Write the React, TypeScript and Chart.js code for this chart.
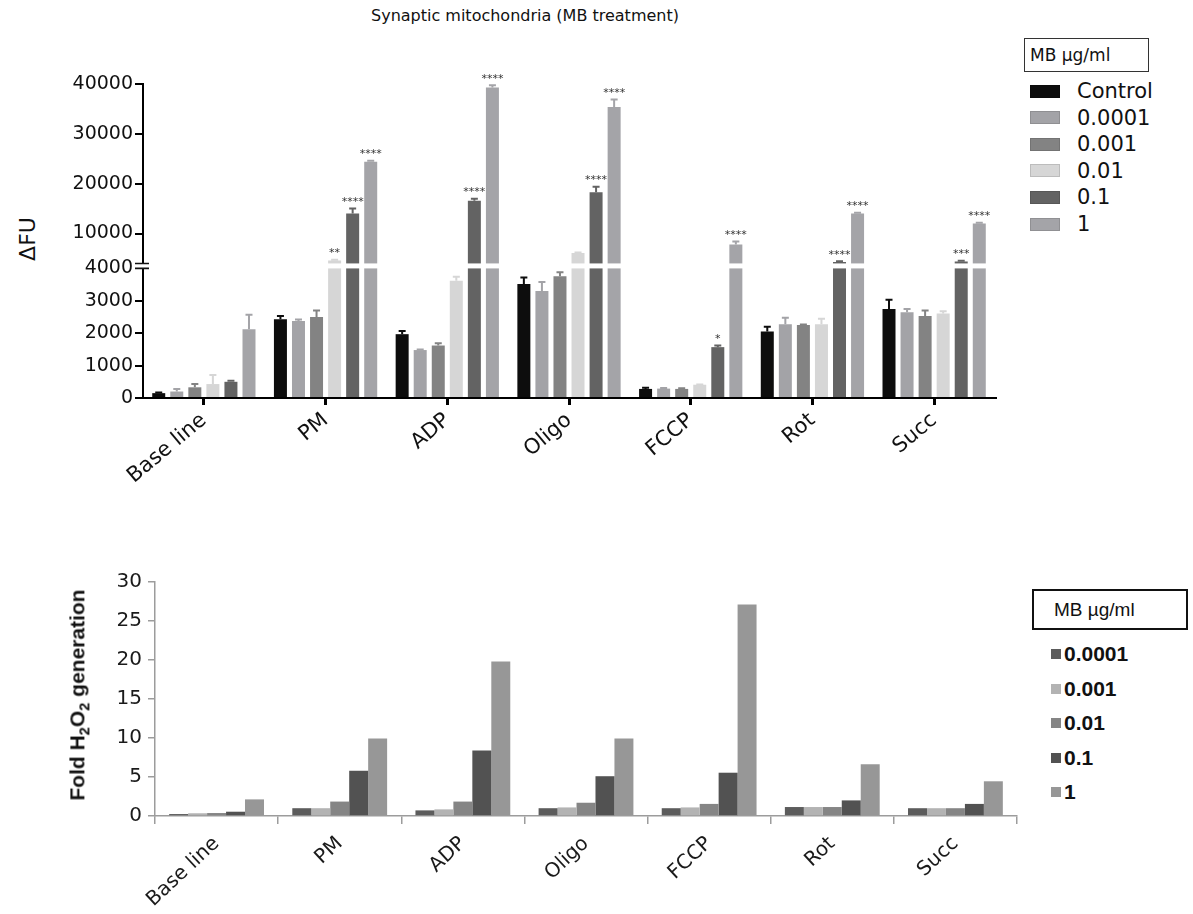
import React, { useEffect, useRef } from 'react';
import { Chart, registerables, LinearScale } from 'chart.js';

Chart.register(...registerables);

// ---------- data ----------
const categories = ['Base line', 'PM', 'ADP', 'Oligo', 'FCCP', 'Rot', 'Succ'];

const topSeriesLabels = ['Control', '0.0001', '0.001', '0.01', '0.1', '1'];
const controlVals = [150, 2430, 1970, 3520, 280, 2050, 2750];
const controlErr = [20, 100, 100, 200, 40, 150, 280];
const mb00001Vals = [200, 2380, 1480, 3300, 290, 2280, 2650];
const mb00001Err = [80, 40, 20, 280, 20, 200, 100];
const mb0001Vals = [330, 2500, 1620, 3760, 280, 2250, 2530];
const mb0001Err = [100, 200, 70, 120, 20, 20, 170];
const mb001Vals = [430, 4600, 3620, 6100, 410, 2280, 2610];
const mb001Err = [280, 150, 120, 100, 10, 170, 70];
const mb01Vals = [500, 14000, 16600, 18300, 1570, 4300, 4400];
const mb01Err = [30, 1000, 400, 1100, 50, 150, 150];
const mb1Vals = [2120, 24400, 39300, 35400, 7800, 14000, 12000];
const mb1Err = [450, 200, 450, 1500, 600, 150, 150];

const noStars = ['', '', '', '', '', '', ''];
const mb001Stars = ['', '**', '', '', '', '', ''];
const mb01Stars = ['', '****', '****', '****', '*', '****', '***'];
const mb1Stars = ['', '****', '****', '****', '****', '****', '****'];

const topTicks = [0, 1000, 2000, 3000, 4000, 10000, 20000, 30000, 40000];
const BREAK_VALUE = 4000;
const TOP_MAX = 40000;

const bottomSeriesLabels = ['0.0001', '0.001', '0.01', '0.1', '1'];
const fold00001 = [0.25, 1.0, 0.72, 1.0, 1.0, 1.15, 1.0];
const fold0001 = [0.35, 1.0, 0.85, 1.1, 1.1, 1.15, 1.0];
const fold001 = [0.38, 1.85, 1.85, 1.7, 1.55, 1.15, 1.0];
const fold01 = [0.55, 5.8, 8.4, 5.1, 5.55, 2.0, 1.55];
const fold1 = [2.13, 9.95, 19.8, 9.95, 27.1, 6.65, 4.45];

// ---------- styles ----------
const topColors = ['#0d0d0d', '#a3a3a7', '#838383', '#d6d6d6', '#636363', '#a4a4a8'];
const bottomColors = ['#5c5c5c', '#b3b3b3', '#858585', '#525252', '#979797'];
const LOWER_FRAC = 130 / 315;
const GAP_FRAC = 5 / 315;
const FONT = "'DejaVu Sans', sans-serif";
const ARIAL = "'Liberation Sans', Arial, sans-serif";

function brokenFraction(v: number): number {
  if (v <= BREAK_VALUE) return (v / BREAK_VALUE) * LOWER_FRAC;
  return LOWER_FRAC + GAP_FRAC + ((v - BREAK_VALUE) / (TOP_MAX - BREAK_VALUE)) * (1 - LOWER_FRAC - GAP_FRAC);
}
function brokenInverse(f: number): number {
  if (f <= LOWER_FRAC) return (f / LOWER_FRAC) * BREAK_VALUE;
  if (f <= LOWER_FRAC + GAP_FRAC) return BREAK_VALUE;
  return BREAK_VALUE + ((f - LOWER_FRAC - GAP_FRAC) / (1 - LOWER_FRAC - GAP_FRAC)) * (TOP_MAX - BREAK_VALUE);
}

class BrokenScale extends (LinearScale as any) {
  static id = 'brokenY';
  static defaults = {};
  buildTicks() {
    return topTicks.map((v) => ({ value: v }));
  }
  getPixelForValue(value: number) {
    return (this as any).getPixelForDecimal(brokenFraction(value));
  }
  getValueForPixel(pixel: number) {
    return brokenInverse((this as any).getDecimalForPixel(pixel));
  }
}
Chart.register(BrokenScale as any);

const topVals = [controlVals, mb00001Vals, mb0001Vals, mb001Vals, mb01Vals, mb1Vals];
const topErrs = [controlErr, mb00001Err, mb0001Err, mb001Err, mb01Err, mb1Err];
const topStars = [noStars, noStars, noStars, mb001Stars, mb01Stars, mb1Stars];
const bottomVals = [fold00001, fold0001, fold001, fold01, fold1];

const topExtras = {
  id: 'topExtras',
  afterDatasetsDraw(chart: any) {
    const ctx = chart.ctx;
    const y = chart.scales.y;
    const area = chart.chartArea;
    const yLow = y.getPixelForDecimal(LOWER_FRAC);
    const yUp = y.getPixelForDecimal(LOWER_FRAC + GAP_FRAC);
    ctx.save();
    ctx.fillStyle = '#ffffff';
    ctx.fillRect(area.left - 3, yUp, area.right - area.left + 3, yLow - yUp);
    ctx.strokeStyle = '#111';
    ctx.lineWidth = 1.6;
    ctx.beginPath();
    ctx.moveTo(area.left - 8, yUp);
    ctx.lineTo(area.left + 6, yUp);
    ctx.moveTo(area.left - 8, yLow);
    ctx.lineTo(area.left + 6, yLow);
    ctx.stroke();

    topVals.forEach((vals, d) => {
      const meta = chart.getDatasetMeta(d);
      vals.forEach((v, i) => {
        const bar = meta.data[i];
        if (!bar) return;
        const x = bar.x;
        const yv = y.getPixelForValue(v);
        const yt = y.getPixelForValue(v + topErrs[d][i]);
        ctx.strokeStyle = topColors[d];
        ctx.lineWidth = 2;
        ctx.beginPath();
        ctx.moveTo(x, yv);
        ctx.lineTo(x, yt);
        ctx.moveTo(x - 3.5, yt);
        ctx.lineTo(x + 3.5, yt);
        ctx.stroke();
        const s = topStars[d][i];
        if (s) {
          ctx.fillStyle = '#333';
          ctx.font = `11px ${FONT}`;
          ctx.textAlign = 'center';
          ctx.textBaseline = 'bottom';
          ctx.fillText(s, x, yt - 1);
        }
      });
    });
    ctx.restore();
  },
};

export default function App() {
  const topRef = useRef<HTMLCanvasElement>(null);
  const botRef = useRef<HTMLCanvasElement>(null);

  useEffect(() => {
    const topChart = new Chart(topRef.current as HTMLCanvasElement, {
      type: 'bar',
      data: {
        labels: categories,
        datasets: topVals.map((vals, d) => ({
          label: topSeriesLabels[d],
          data: vals,
          backgroundColor: topColors[d],
          borderWidth: 0,
          categoryPercentage: 0.89,
          barPercentage: 0.72,
        })),
      },
      options: {
        responsive: false,
        animation: false,
        layout: { padding: { top: 84, right: 15, left: 0, bottom: 0 } },
        plugins: { legend: { display: false }, tooltip: { enabled: false }, title: { display: false } },
        scales: {
          x: {
            afterFit: (s: any) => { s.height = 102; },
            grid: { display: true, offset: false, drawOnChartArea: false, drawTicks: true, tickLength: 7, color: '#000', lineWidth: 3 },
            border: { display: true, color: '#000', width: 2 },
            ticks: { color: '#111', font: { family: FONT, size: 21 }, maxRotation: 40, minRotation: 40, padding: 3, autoSkip: false },
          },
          y: {
            type: 'brokenY' as any,
            min: 0,
            max: TOP_MAX,
            afterFit: (s: any) => { s.width = 143; },
            grid: {
              display: true,
              drawOnChartArea: false,
              drawTicks: true,
              tickLength: 8,
              lineWidth: 2,
              color: (c: any) => (c.tick && c.tick.value === BREAK_VALUE ? 'rgba(0,0,0,0)' : '#000'),
            },
            border: { display: true, color: '#000', width: 2 },
            ticks: { color: '#111', font: { family: FONT, size: 19 }, padding: 2, autoSkip: false, callback: (v: any) => String(v) },
          } as any,
        },
      },
      plugins: [topExtras],
    } as any);

    const botChart = new Chart(botRef.current as HTMLCanvasElement, {
      type: 'bar',
      data: {
        labels: categories,
        datasets: bottomVals.map((vals, d) => ({
          label: bottomSeriesLabels[d],
          data: vals,
          backgroundColor: bottomColors[d],
          borderWidth: 0,
          categoryPercentage: 0.77,
          barPercentage: 1.0,
        })),
      },
      options: {
        responsive: false,
        animation: false,
        layout: { padding: { top: 62, right: 13, left: 0, bottom: 0 } },
        plugins: { legend: { display: false }, tooltip: { enabled: false } },
        scales: {
          x: {
            afterFit: (s: any) => { s.height = 98; },
            grid: { display: true, offset: true, drawOnChartArea: false, drawTicks: true, tickLength: 8, color: '#9c9c9c', lineWidth: 1.5 },
            border: { display: true, color: '#9c9c9c', width: 1.5 },
            ticks: { color: '#1a1a1a', font: { family: FONT, size: 20 }, maxRotation: 43, minRotation: 43, padding: 8, autoSkip: false },
          },
          y: {
            min: 0,
            max: 30,
            afterFit: (s: any) => { s.width = 155; },
            grid: { display: true, drawOnChartArea: false, drawTicks: true, tickLength: 7, color: '#9c9c9c', lineWidth: 1.5 },
            border: { display: true, color: '#9c9c9c', width: 1.5 },
            ticks: { stepSize: 5, color: '#1a1a1a', font: { family: FONT, size: 20 }, padding: 6, callback: (v: any) => String(v) },
          },
        },
      },
    } as any);

    return () => {
      topChart.destroy();
      botChart.destroy();
    };
  }, []);

  return (
    <div style={{ position: 'absolute', left: 0, top: 0, width: 1193, height: 914, background: '#fff', overflow: 'hidden' }}>
      <div style={{ position: 'absolute', left: 275, top: 6, width: 500, textAlign: 'center', font: `16px ${FONT}`, color: '#111', lineHeight: '20px' }}>
        Synaptic mitochondria (MB treatment)
      </div>
      <div style={{ position: 'absolute', left: 27, top: 239, transform: 'translate(-50%, -50%) rotate(-90deg)', font: `22px ${FONT}`, color: '#111', whiteSpace: 'nowrap' }}>
        ΔFU
      </div>
      <canvas ref={topRef} width={1010} height={500} style={{ position: 'absolute', left: 0, top: 0, width: 1010, height: 500 }} />

      <div style={{ position: 'absolute', left: 1024, top: 38, width: 118, height: 32, border: '1.5px solid #333', font: `17px ${FONT}`, color: '#111', lineHeight: '32px', paddingLeft: 5, boxSizing: 'content-box' }}>
        MB μg/ml
      </div>
      {topSeriesLabels.map((lab, i) => (
        <div key={lab} style={{ position: 'absolute', left: 1030, top: 91 + i * 26.6 - 13, height: 26, display: 'flex', alignItems: 'center' }}>
          <div style={{ width: 30, height: 13, background: topColors[i], boxShadow: 'inset 0 0 0 1px rgba(0,0,0,0.12)' }} />
          <div style={{ marginLeft: 17, font: `21px ${FONT}`, color: '#111', whiteSpace: 'nowrap' }}>{lab}</div>
        </div>
      ))}

      <canvas ref={botRef} width={1030} height={394} style={{ position: 'absolute', left: 0, top: 520, width: 1030, height: 394 }} />
      <div style={{ position: 'absolute', left: 79, top: 695, transform: 'translate(-50%, -50%) rotate(-90deg)', font: `bold 21px ${ARIAL}`, color: '#111', whiteSpace: 'nowrap' }}>
        Fold H<sub style={{ fontSize: '70%' }}>2</sub>O<sub style={{ fontSize: '70%' }}>2</sub> generation
      </div>
      <div style={{ position: 'absolute', left: 1032, top: 589, width: 152, height: 37, border: '2px solid #111', font: `19px ${ARIAL}`, color: '#111', lineHeight: '37px', paddingLeft: 0, textIndent: 20 }}>
        MB µg/ml
      </div>
      {bottomSeriesLabels.map((lab, i) => (
        <div key={lab} style={{ position: 'absolute', left: 1051, top: 654 + i * 34.5 - 15, height: 30, display: 'flex', alignItems: 'center' }}>
          <div style={{ width: 10, height: 10, background: bottomColors[i] }} />
          <div style={{ marginLeft: 3, font: `bold 21px ${ARIAL}`, color: '#111', whiteSpace: 'nowrap' }}>{lab}</div>
        </div>
      ))}
    </div>
  );
}
